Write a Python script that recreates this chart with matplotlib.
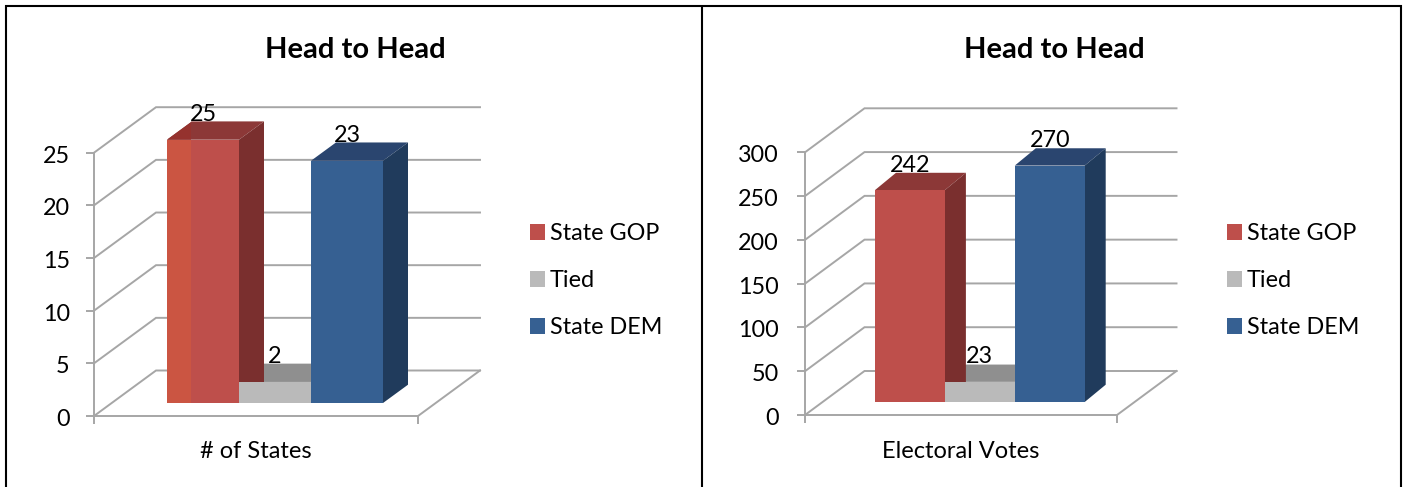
import matplotlib
matplotlib.use("Agg")
import matplotlib.pyplot as plt
from matplotlib.patches import Patch, Polygon
from matplotlib.transforms import ScaledTranslation

# data
series = ["State GOP", "Tied", "State DEM"]
states = [25, 2, 23]
votes = [242, 23, 270]
state_ticks = [0, 5, 10, 15, 20, 25]
vote_ticks = [0, 50, 100, 150, 200, 250, 300]

front = ["#BE4F4B", "#BABABA", "#366092"]
top = ["#8C3837", "#8F8F8F", "#2A456F"]
side = ["#7A2F2E", "#808080", "#203B5C"]
grid = "#A6A6A6"

W, H = 1405, 487
LABEL = 16.8
TITLE = 21
plt.rcParams["font.family"] = ["Lato", "DejaVu Sans"]

fig = plt.figure(figsize=(W / 100, H / 100), dpi=100)
bg = fig.add_axes([0, 0, 1, 1])
bg.set_xlim(0, W)
bg.set_ylim(H, 0)
bg.axis("off")

# black table lines round the two charts
bg.plot([6, 6], [H, 5], color="black", lw=1.5, solid_capstyle="butt")
bg.plot([5, 1402], [6, 6], color="black", lw=1.5, solid_capstyle="butt")
bg.plot([702, 702], [6, H], color="black", lw=1.5, solid_capstyle="butt")
bg.plot([1401, 1401], [5, H], color="black", lw=1.5, solid_capstyle="butt")


def panel(vals, ticks, xlabel, x0, x1, y0, y1, first_left, bar_w, wall, bar_depth, raised,
          title_x, legend_x, pad, strip=False):
    ax = fig.add_axes([x0 / W, 1 - y0 / H, (x1 - x0) / W, (y0 - y1) / H])
    ax.patch.set_visible(False)
    ymax = ticks[-1]
    per_unit = (y0 - y1) / ymax
    xlo = -0.5 - (first_left - x0) / bar_w
    xhi = xlo + (x1 - x0) / bar_w
    ax.set_xlim(xlo, xhi)
    ax.set_ylim(0, ymax)

    # walls and floor
    wx, wy = wall[0] / bar_w, wall[1] / per_unit
    for v in ticks:
        ax.plot([xlo, xlo + wx, xhi + wx], [v, v + wy, v + wy], color=grid, lw=1.4,
                clip_on=False, zorder=1, solid_joinstyle="miter")
    ax.plot([xhi, xhi + wx], [0, wy], color=grid, lw=1.4, clip_on=False, zorder=1)

    # boxes: tied top and side sit behind the neighbours, its front over the red side
    dx, dy = bar_depth[0] / bar_w, bar_depth[1] / per_unit
    base = raised / per_unit
    for i in [1, 0, 2]:
        l, r = i - 0.5, i + 0.5
        b, t = base, base + vals[i]
        z = 2 if i == 1 else 3
        ax.add_patch(Polygon([(l, t), (l + dx, t + dy), (r + dx, t + dy), (r, t)],
                             fc=top[i], ec="none", clip_on=False, zorder=z))
        ax.add_patch(Polygon([(r, b), (r + dx, b + dy), (r + dx, t + dy), (r, t)],
                             fc=side[i], ec="none", clip_on=False, zorder=z))
        ax.bar(i, vals[i], width=1, bottom=base, color=front[i], clip_on=False,
               zorder=3.05 if i == 1 else 3.1)
        ax.annotate(str(vals[i]), (i, t), xytext=(0, 25 * 0.72), textcoords="offset points",
                    ha="center", va="center", fontsize=LABEL, color="black", zorder=6,
                    annotation_clip=False)
    if strip:
        # lighter band on the left of the first box
        s = 24 / bar_w
        t = base + vals[0]
        ax.bar(-0.5 + s / 2, vals[0], width=s, bottom=base, color="#CB5542", zorder=3.2, clip_on=False)
        ax.add_patch(Polygon([(-0.5, t), (-0.5 + dx, t + dy), (-0.5 + s, t + dy), (-0.5 + s, t)],
                             fc="#95322E", ec="none", clip_on=False, zorder=3.2))

    for name in ["top", "right"]:
        ax.spines[name].set_visible(False)
    for name in ["left", "bottom"]:
        ax.spines[name].set_color(grid)
        ax.spines[name].set_linewidth(1.4)
    ax.set_yticks(ticks)
    ax.set_yticklabels([str(v) for v in ticks], fontsize=LABEL)
    ax.set_xticks([xlo, xhi])
    ax.set_xticklabels(["", ""])
    ax.tick_params(axis="y", length=5.8, width=1.4, color=grid, pad=pad)
    ax.tick_params(axis="x", length=5.8, width=1.4, color=grid)
    down = ScaledTranslation(0, -1.5 / 100, fig.dpi_scale_trans)
    for lab in ax.get_yticklabels():
        lab.set_transform(lab.get_transform() + down)
    bg.text((x0 + x1) / 2, 452, xlabel, ha="center", va="center", fontsize=LABEL + 0.2)
    bg.text(title_x, 49.5, "Head to Head", ha="center", va="center", fontsize=TITLE, fontweight="bold")

    handles = [Patch(fc=c, ec="none") for c in front]
    bg.legend(handles, series, loc="center left", bbox_to_anchor=(legend_x, 280.5),
              bbox_transform=bg.transData, frameon=False, fontsize=LABEL, borderpad=0,
              borderaxespad=0, handlelength=0.64, handleheight=0.7, handletextpad=0.2,
              labelspacing=1.12)
    return ax


panel(states, state_ticks, "# of States", 94, 418, 416, 152.7, 167, 72, (62, 45.5), (25, 18.3), 13,
      355, 530, 11.6, strip=True)
bg.add_artist(bg.get_legend())
panel(votes, vote_ticks, "Electoral Votes", 805, 1117, 415, 152.3, 875, 69.9, (59.5, 44), (21, 17.3), 13,
      1054, 1227, 13)

fig.savefig("out.png", dpi=100)
